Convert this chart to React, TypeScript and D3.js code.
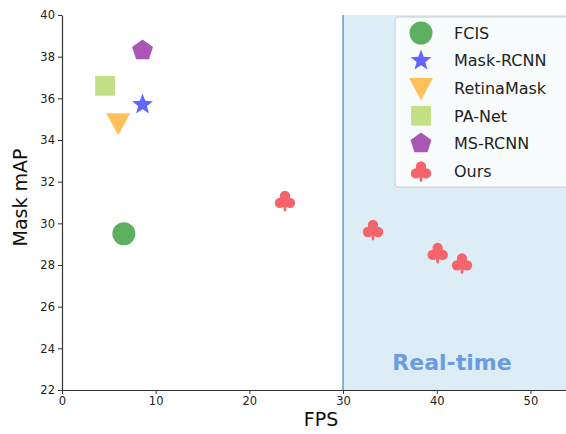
import { useEffect, useRef } from "react";
import * as d3 from "d3";

// methods and their (FPS, Mask mAP) readings
const methods = ["FCIS", "Mask-RCNN", "RetinaMask", "PA-Net", "MS-RCNN", "Ours"];
const fcis = [[6.6, 29.5]];
const maskRcnn = [[8.6, 35.7]];
const retinaMask = [[6.0, 34.8]];
const paNet = [[4.6, 36.6]];
const msRcnn = [[8.6, 38.3]];
const ours = [
    [23.8, 31.1],
    [33.2, 29.7],
    [40.1, 28.6],
    [42.7, 28.1],
];
const xTicks = [0, 10, 20, 30, 40, 50];
const yTicks = [22, 24, 26, 28, 30, 32, 34, 36, 38, 40];

const colors = ["#5cb060", "#6464ff", "#ffc05a", "#c4e084", "#a857b4", "#f4646a"];
const shapes = ["circle", "star", "tri", "square", "pentagon", "club"];

// marker path centred at 0,0 with nominal size s (px)
const markerPath = (shape: string, s: number) => {
    const p = d3.path();
    const r = s / 2;
    if (shape === "circle") {
        p.arc(0, 0, r, 0, Math.PI * 2);
    } else if (shape === "square") {
        p.rect(-r * 0.9, -r * 0.9, r * 1.8, r * 1.8);
    } else if (shape === "tri") {
        p.moveTo(-r, -r * 0.85);
        p.lineTo(r, -r * 0.85);
        p.lineTo(0, r);
        p.closePath();
    } else if (shape === "star" || shape === "pentagon") {
        const n = shape === "star" ? 10 : 5;
        for (let i = 0; i < n; i++) {
            const a = (i * 2 * Math.PI) / n - Math.PI / 2;
            const rr = shape === "star" && i % 2 ? r * 0.42 : r;
            const px = rr * Math.cos(a);
            const py = rr * Math.sin(a);
            i === 0 ? p.moveTo(px, py) : p.lineTo(px, py);
        }
        p.closePath();
    } else if (shape === "club") {
        const c = r * 0.47;
        p.moveTo(c, -r * 0.42);
        p.arc(0, -r * 0.42, c, 0, Math.PI * 2);
        p.moveTo(-r * 0.46 + c, r * 0.22);
        p.arc(-r * 0.46, r * 0.22, c, 0, Math.PI * 2);
        p.moveTo(r * 0.46 + c, r * 0.22);
        p.arc(r * 0.46, r * 0.22, c, 0, Math.PI * 2);
        p.moveTo(-r * 0.22, -r * 0.1);
        p.lineTo(r * 0.22, -r * 0.1);
        p.lineTo(r * 0.1, r * 0.98);
        p.lineTo(-r * 0.1, r * 0.98);
        p.closePath();
    }
    return p.toString();
};

const sizes = [23, 22, 24, 22, 22, 22];

const App = () => {
    const ref = useRef<SVGSVGElement>(null);

    useEffect(() => {
        if (!ref.current) return;
        const svg = d3.select(ref.current);
        svg.selectAll("*").remove();

        const left = 62;
        const top = 15;
        const bottom = 390;
        const right = 566;

        const x = d3.scaleLinear().domain([0, 53.8]).range([left, right]);
        const y = d3.scaleLinear().domain([22, 40]).range([bottom, top]);

        const g = svg.append("g").attr("font-family", "DejaVu Sans");

        // real-time region
        g.append("rect")
            .attr("x", x(30))
            .attr("y", top)
            .attr("width", right - x(30))
            .attr("height", bottom - top)
            .attr("fill", "#dcedf5");
        g.append("line")
            .attr("x1", x(30))
            .attr("x2", x(30))
            .attr("y1", top)
            .attr("y2", bottom)
            .attr("stroke", "#5a9fd0")
            .attr("stroke-width", 1.5);
        g.append("text")
            .attr("x", 452)
            .attr("y", 370)
            .attr("text-anchor", "middle")
            .attr("font-size", 22)
            .attr("font-weight", "bold")
            .attr("fill", "#6b9be0")
            .text("Real-time");

        // axes
        const xAxis = g
            .append("g")
            .attr("transform", `translate(0,${bottom})`)
            .call(d3.axisBottom(x).tickValues(xTicks).tickSize(4).tickPadding(3).tickSizeOuter(0));
        const yAxis = g
            .append("g")
            .attr("transform", `translate(${left},0)`)
            .call(d3.axisLeft(y).tickValues(yTicks).tickSize(4).tickPadding(3).tickSizeOuter(0));
        [xAxis, yAxis].forEach((a) => {
            a.selectAll("text").attr("font-size", 11.5).attr("fill", "#222").attr("font-family", "DejaVu Sans");
            a.selectAll("line").attr("stroke", "#333");
            a.select(".domain").attr("stroke", "#333").attr("stroke-width", 1.2);
        });

        g.append("text")
            .attr("x", x(30) - 22)
            .attr("y", 426)
            .attr("text-anchor", "middle")
            .attr("font-size", 19)
            .attr("fill", "#111")
            .text("FPS");
        g.append("text")
            .attr("transform", `translate(27,${(top + bottom) / 2 - 5}) rotate(-90)`)
            .attr("text-anchor", "middle")
            .attr("font-size", 19)
            .attr("fill", "#111")
            .text("Mask mAP");

        // points
        const series = [fcis, maskRcnn, retinaMask, paNet, msRcnn, ours];
        series.forEach((pts, i) => {
            g.selectAll(`.pt-${i}`)
                .data(pts)
                .join("path")
                .attr("class", `pt-${i}`)
                .attr("transform", (d) => `translate(${x(d[0])},${y(d[1])})`)
                .attr("d", markerPath(shapes[i], sizes[i]))
                .attr("fill", colors[i]);
        });

        // legend
        const lg = g.append("g").attr("transform", "translate(395,17)");
        lg.append("rect")
            .attr("x", 0)
            .attr("y", 0)
            .attr("width", 200)
            .attr("height", 170)
            .attr("rx", 3)
            .attr("fill", "rgba(255,255,255,0.8)")
            .attr("stroke", "#cccccc");
        const items = lg
            .selectAll(".item")
            .data(methods)
            .join("g")
            .attr("class", "item")
            .attr("transform", (_, i) => `translate(0,${16 + i * 27.6})`);
        items
            .append("path")
            .attr("transform", "translate(26,0)")
            .attr("d", (_, i) => markerPath(shapes[i], sizes[i]))
            .attr("fill", (_, i) => colors[i]);
        items
            .append("text")
            .attr("x", 59)
            .attr("y", 0)
            .attr("dy", "0.36em")
            .attr("font-size", 16)
            .attr("fill", "#222")
            .text((d) => d);
    }, []);

    return (
        <svg
            ref={ref}
            width={566}
            height={434}
            style={{ position: "absolute", left: 0, top: 0, background: "#fff" }}
        />
    );
};

export default App;
